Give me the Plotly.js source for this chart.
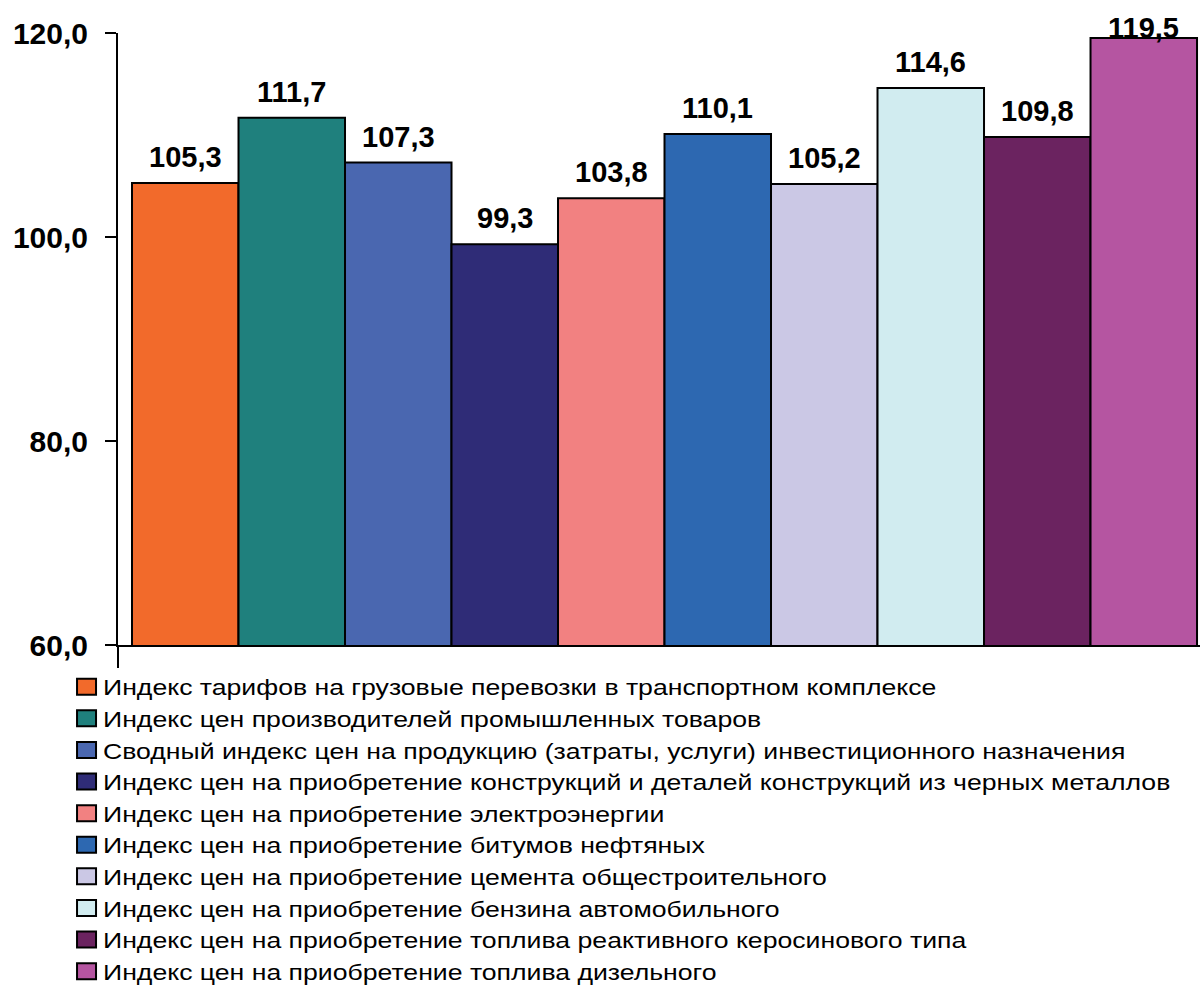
<!DOCTYPE html>
<html>
<head>
<meta charset="utf-8">
<script src="https://cdn.plot.ly/plotly-3.0.1.min.js"></script>
<style>
  html, body { margin: 0; padding: 0; background: #fff; }
  #chart { width: 1204px; height: 1005px; }
</style>
</head>
<body>
<div id="chart"></div>
<script>
const seriesNames = [
  "Индекс тарифов на грузовые перевозки в транспортном комплексе",
  "Индекс цен производителей промышленных товаров",
  "Сводный индекс цен на продукцию (затраты, услуги) инвестиционного назначения",
  "Индекс цен на приобретение конструкций и деталей конструкций из черных металлов",
  "Индекс цен на приобретение электроэнергии",
  "Индекс цен на приобретение битумов нефтяных",
  "Индекс цен на приобретение цемента общестроительного",
  "Индекс цен на приобретение бензина автомобильного",
  "Индекс цен на приобретение топлива реактивного керосинового типа",
  "Индекс цен на приобретение топлива дизельного"
];
const seriesValues = [105.3, 111.7, 107.3, 99.3, 103.8, 110.1, 105.2, 114.6, 109.8, 119.5];
const seriesColors = ["#F26A2B", "#1F807D", "#4A67B0", "#2F2C77", "#F28181",
                      "#2D68B1", "#CBC8E5", "#D1ECF0", "#6B2360", "#B555A1"];
const yTicks = [60, 80, 100, 120];

const FONT = '"Liberation Sans", Arial, sans-serif';

const traces = seriesNames.map((name, i) => ({
  type: 'bar',
  x: [i],
  y: [seriesValues[i]],
  width: [1],
  name: name,
  legendgroup: 'g' + i,
  marker: { color: seriesColors[i], line: { color: '#000', width: 2 } },
  hoverinfo: 'name+y'
}));

const ML = 118, MR = 4, MT = 33, MB = 360;
const plotH = 1005 - MT - MB;

const annotations = seriesValues.map((v, i) => {
  const barTopPx = MT + (120 - v) / 60 * plotH;
  const shift = Math.min(26, barTopPx - 28);
  return {
    x: i, y: v, xref: 'x', yref: 'y',
    text: v.toFixed(1).replace('.', ','),
    showarrow: false, yanchor: 'middle', yshift: shift,
    font: { family: FONT, size: 29, color: '#000', weight: 'bold' }
  };
});

const layout = {
  width: 1204, height: 1005,
  margin: { l: ML, r: MR, t: MT, b: MB },
  paper_bgcolor: '#fff', plot_bgcolor: '#fff',
  separators: ', ',
  barmode: 'overlay',
  showlegend: true,
  font: { family: FONT, color: '#000' },
  xaxis: {
    range: [-0.6315, 9.528],
    showline: true, linecolor: '#000', linewidth: 2,
    showticklabels: false, ticks: '', showgrid: false, zeroline: false, fixedrange: true
  },
  yaxis: {
    range: [60, 120],
    tickvals: yTicks,
    tickformat: '.1f',
    showline: true, linecolor: '#000', linewidth: 2,
    ticks: 'outside', ticklen: 11, tickwidth: 2, tickcolor: '#000',
    ticklabelstandoff: 11,
    tickfont: { family: FONT, size: 30, color: '#000', weight: 'bold' },
    showgrid: false, zeroline: false, fixedrange: true
  },
  legend: {
    orientation: 'v',
    x: -0.0508, xanchor: 'left',
    y: -0.0342, yanchor: 'top',
    font: { family: FONT, size: 22, color: '#000' },
    tracegroupgap: 3,
    bgcolor: 'rgba(0,0,0,0)',
    traceorder: 'normal'
  },
  annotations: annotations,
  shapes: [{
    type: 'line', xref: 'paper', yref: 'paper',
    x0: 0, x1: 0, y0: 0, y1: -23 / plotH,
    line: { color: '#000', width: 2 }
  }]
};

Plotly.newPlot('chart', traces, layout, { displayModeBar: false, staticPlot: true }).then(() => {
  document.querySelectorAll('#chart .legendpoints path').forEach(p => {
    p.setAttribute('d', 'M13,8H-6V-8H13Z');
    p.style.strokeWidth = '2px';
    p.style.stroke = '#000';
  });
  document.querySelectorAll('#chart .legendtext').forEach(t => {
    const w = t.getComputedTextLength();
    t.setAttribute('textLength', (w * 1.21).toFixed(1));
    t.setAttribute('lengthAdjust', 'spacingAndGlyphs');
  });
  document.querySelectorAll('#chart .legend [clip-path]').forEach(e => e.removeAttribute('clip-path'));
});
</script>
</body>
</html>
